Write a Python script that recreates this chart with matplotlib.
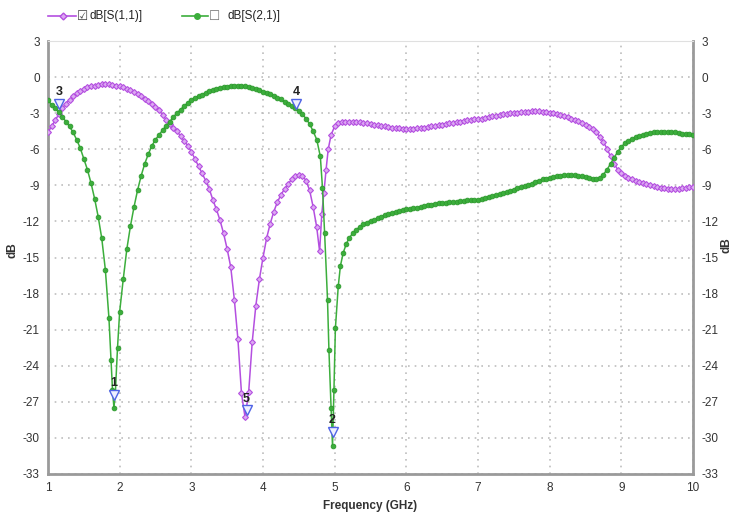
import matplotlib
matplotlib.use("Agg")
import matplotlib.pyplot as plt
from matplotlib.lines import Line2D

plt.rcParams['font.family'] = ['Liberation Sans Narrow', 'Liberation Sans', 'DejaVu Sans']

# S(1,1) sweep (GHz, dB)
f11 = [1.00, 1.05, 1.10, 1.15, 1.20, 1.25, 1.30, 1.35, 1.40, 1.45,
       1.50, 1.55, 1.60, 1.65, 1.70, 1.75, 1.80, 1.85, 1.90, 1.95,
       2.00, 2.05, 2.10, 2.15, 2.20, 2.25, 2.30, 2.35, 2.40, 2.45,
       2.50, 2.55, 2.60, 2.65, 2.70, 2.75, 2.80, 2.85, 2.90, 2.95,
       3.00, 3.05, 3.10, 3.15, 3.20, 3.25, 3.30, 3.35, 3.40, 3.45,
       3.50, 3.55, 3.60, 3.65, 3.70, 3.75, 3.80, 3.85, 3.90, 3.95,
       4.00, 4.05, 4.10, 4.15, 4.20, 4.25, 4.30, 4.35, 4.40, 4.45,
       4.50, 4.55, 4.60, 4.65, 4.70, 4.75, 4.79, 4.82, 4.85, 4.88,
       4.91, 4.95, 5.00, 5.05, 5.10, 5.15, 5.20, 5.25, 5.30, 5.35,
       5.40, 5.45, 5.50, 5.55, 5.60, 5.65, 5.70, 5.75, 5.80, 5.85,
       5.90, 5.95, 6.00, 6.05, 6.10, 6.15, 6.20, 6.25, 6.30, 6.35,
       6.40, 6.45, 6.50, 6.55, 6.60, 6.65, 6.70, 6.75, 6.80, 6.85,
       6.90, 6.95, 7.00, 7.05, 7.10, 7.15, 7.20, 7.25, 7.30, 7.35,
       7.40, 7.45, 7.50, 7.55, 7.60, 7.65, 7.70, 7.75, 7.80, 7.85,
       7.90, 7.95, 8.00, 8.05, 8.10, 8.15, 8.20, 8.25, 8.30, 8.35,
       8.40, 8.45, 8.50, 8.55, 8.60, 8.65, 8.70, 8.75, 8.80, 8.85,
       8.90, 8.95, 9.00, 9.05, 9.10, 9.15, 9.20, 9.25, 9.30, 9.35,
       9.40, 9.45, 9.50, 9.55, 9.60, 9.65, 9.70, 9.75, 9.80, 9.85,
       9.90, 9.95, 10.00]
s11 = [-4.6, -4.1, -3.6, -3.1, -2.6, -2.2, -1.9, -1.6, -1.35, -1.15,
       -1.0, -0.85, -0.75, -0.7, -0.65, -0.6, -0.6, -0.6, -0.65, -0.7,
       -0.75, -0.85, -0.95, -1.1, -1.25, -1.4, -1.6, -1.8, -2.0, -2.2,
       -2.45, -2.75, -3.15, -3.55, -3.9, -4.2, -4.5, -4.9, -5.3, -5.7,
       -6.2, -6.8, -7.4, -8.0, -8.6, -9.3, -10.2, -11.0, -11.9, -13.0,
       -14.3, -15.8, -18.5, -21.8, -26.3, -28.3, -26.2, -22.0, -19.0, -16.8,
       -15.0, -13.4, -12.2, -11.2, -10.4, -9.8, -9.3, -8.9, -8.5, -8.25,
       -8.1, -8.2, -8.6, -9.4, -10.8, -12.5, -14.5, -11.4, -9.6, -7.7,
       -6.0, -4.8, -4.1, -3.85, -3.75, -3.7, -3.7, -3.7, -3.7, -3.75,
       -3.8, -3.85, -3.9, -3.95, -4.0, -4.05, -4.1, -4.15, -4.2, -4.25,
       -4.25, -4.3, -4.3, -4.3, -4.3, -4.25, -4.25, -4.2, -4.15, -4.1,
       -4.05, -4.0, -3.95, -3.9, -3.85, -3.8, -3.75, -3.7, -3.65, -3.6,
       -3.55, -3.5, -3.5, -3.45, -3.4, -3.3, -3.25, -3.2, -3.15, -3.1,
       -3.05, -3.0, -2.95, -2.95, -2.9, -2.9, -2.9, -2.85, -2.85, -2.85,
       -2.9, -2.9, -2.95, -3.0, -3.1, -3.15, -3.25, -3.35, -3.45, -3.55,
       -3.65, -3.8, -3.95, -4.15, -4.35, -4.6, -4.95, -5.4, -5.95, -6.6,
       -7.2, -7.7, -8.0, -8.2, -8.35, -8.5, -8.6, -8.7, -8.8, -8.9,
       -9.0, -9.05, -9.1, -9.2, -9.25, -9.3, -9.3, -9.3, -9.3, -9.25,
       -9.2, -9.15, -9.1]

# S(2,1) sweep (GHz, dB)
f21 = [1.00, 1.05, 1.10, 1.15, 1.20, 1.25, 1.30, 1.35, 1.40, 1.45,
       1.50, 1.55, 1.60, 1.65, 1.70, 1.75, 1.80, 1.85, 1.88, 1.90,
       1.92, 1.94, 1.97, 2.00, 2.05, 2.10, 2.15, 2.20, 2.25, 2.30,
       2.35, 2.40, 2.45, 2.50, 2.55, 2.60, 2.65, 2.70, 2.75, 2.80,
       2.85, 2.90, 2.95, 3.00, 3.05, 3.10, 3.15, 3.20, 3.25, 3.30,
       3.35, 3.40, 3.45, 3.50, 3.55, 3.60, 3.65, 3.70, 3.75, 3.80,
       3.85, 3.90, 3.95, 4.00, 4.05, 4.10, 4.15, 4.20, 4.25, 4.30,
       4.35, 4.40, 4.45, 4.50, 4.55, 4.60, 4.65, 4.70, 4.75, 4.80,
       4.83, 4.86, 4.90, 4.92, 4.95, 4.97, 4.99, 5.01, 5.05, 5.08,
       5.12, 5.16, 5.20, 5.25, 5.30, 5.35, 5.40, 5.45, 5.50, 5.55,
       5.60, 5.65, 5.70, 5.75, 5.80, 5.85, 5.90, 5.95, 6.00, 6.05,
       6.10, 6.15, 6.20, 6.25, 6.30, 6.35, 6.40, 6.45, 6.50, 6.55,
       6.60, 6.65, 6.70, 6.75, 6.80, 6.85, 6.90, 6.95, 7.00, 7.05,
       7.10, 7.15, 7.20, 7.25, 7.30, 7.35, 7.40, 7.45, 7.50, 7.55,
       7.60, 7.65, 7.70, 7.75, 7.80, 7.85, 7.90, 7.95, 8.00, 8.05,
       8.10, 8.15, 8.20, 8.25, 8.30, 8.35, 8.40, 8.45, 8.50, 8.55,
       8.60, 8.65, 8.70, 8.75, 8.80, 8.85, 8.90, 8.95, 9.00, 9.05,
       9.10, 9.15, 9.20, 9.25, 9.30, 9.35, 9.40, 9.45, 9.50, 9.55,
       9.60, 9.65, 9.70, 9.75, 9.80, 9.85, 9.90, 9.95, 10.00]
s21 = [-1.9, -2.3, -2.6, -2.9, -3.3, -3.7, -4.1, -4.6, -5.2, -5.9,
       -6.8, -7.7, -8.8, -10.1, -11.6, -13.4, -16.0, -20.0, -23.5, -26.0,
       -27.5, -26.2, -22.5, -19.5, -16.8, -14.3, -12.4, -10.8, -9.4, -8.2,
       -7.2, -6.4, -5.7, -5.2, -4.8, -4.4, -4.05, -3.7, -3.3, -3.0,
       -2.7, -2.4, -2.15, -1.9, -1.75, -1.6, -1.45, -1.3, -1.15, -1.05,
       -0.95, -0.9, -0.85, -0.8, -0.75, -0.7, -0.7, -0.7, -0.75, -0.8,
       -0.9, -1.0, -1.1, -1.2, -1.3, -1.4, -1.55, -1.7, -1.85, -2.05,
       -2.2, -2.4, -2.6, -2.8, -3.1, -3.45, -3.9, -4.5, -5.2, -6.6,
       -9.2, -13.0, -18.5, -22.7, -27.5, -30.7, -26.0, -20.9, -17.4, -15.7,
       -14.6, -13.9, -13.4, -13.0, -12.7, -12.45, -12.25, -12.1, -12.0, -11.9,
       -11.75, -11.6, -11.5, -11.4, -11.3, -11.2, -11.15, -11.05, -11.0, -10.95,
       -10.9, -10.85, -10.8, -10.7, -10.65, -10.6, -10.55, -10.5, -10.45, -10.45,
       -10.4, -10.4, -10.35, -10.3, -10.3, -10.25, -10.25, -10.2, -10.2, -10.15,
       -10.05, -9.95, -9.9, -9.8, -9.75, -9.65, -9.55, -9.45, -9.35, -9.25,
       -9.15, -9.05, -8.95, -8.85, -8.7, -8.6, -8.5, -8.45, -8.4, -8.3,
       -8.25, -8.2, -8.15, -8.15, -8.15, -8.15, -8.2, -8.25, -8.3, -8.35,
       -8.45, -8.5, -8.4, -8.1, -7.7, -7.2, -6.7, -6.2, -5.8, -5.5,
       -5.3, -5.15, -5.0, -4.9, -4.8, -4.7, -4.65, -4.6, -4.55, -4.55,
       -4.55, -4.55, -4.6, -4.6, -4.65, -4.7, -4.7, -4.75, -4.8]

# marker triangles: label, frequency, dB
mk_labels = ["1", "2", "3", "4", "5"]
mk_freq = [1.92, 4.97, 1.16, 4.46, 3.77]
mk_db = [-26.4, -29.5, -2.2, -2.2, -27.7]

yticks = [3, 0, -3, -6, -9, -12, -15, -18, -21, -24, -27, -30, -33]
xticks = [1, 2, 3, 4, 5, 6, 7, 8, 9, 10]

purple = '#b44fe0'
green = '#3cae3c'

fig = plt.figure(figsize=(7.36, 5.21), dpi=100)
ax = fig.add_axes([48 / 736, 1 - 474 / 521, 645 / 736, 433 / 521])

ax.plot(f11, s11, color=purple, lw=1.1, marker='D', ms=3.0,
        mfc='#dca8f2', mec=purple, mew=0.8, zorder=3)
ax.plot(f21, s21, color=green, lw=1.1, marker='o', ms=3.4,
        mfc=green, mec='#2e9a2e', mew=0.6, zorder=3)

ax.plot(mk_freq, mk_db, linestyle='none', marker='v', ms=7,
        mfc='#eef0ff', mec='#4f63e6', mew=1.0, zorder=4)
for lab, fx, dbv in zip(mk_labels, mk_freq, mk_db):
    ax.annotate(lab, (fx, dbv), xytext=(0, 4), textcoords='offset points',
                ha='center', va='bottom', fontsize=9, fontweight='bold',
                color='#222222', zorder=5)

ax.set_xlim(1, 10)
ax.set_ylim(-33, 3)
ax.set_xticks(xticks)
ax.set_yticks(yticks)
ax.set_yticklabels([str(v) for v in yticks])
ax.tick_params(axis='both', length=0, labelsize=8.5, colors='#333333', pad=6)
ax.tick_params(axis='y', right=True, labelright=True)

ax.grid(True, color='#bdbdbd', linestyle=(0, (1, 3)), linewidth=1.2)
for side in ['left', 'right', 'bottom']:
    ax.spines[side].set_color('#9a9a9a')
    ax.spines[side].set_linewidth(2.0)
ax.spines['top'].set_color('#e0e0e0')
ax.spines['top'].set_linewidth(0.8)

ax.set_xlabel('Frequency (GHz)', fontsize=8.5, fontweight='bold', color='#333333', labelpad=4)
fig.text(13 / 736, 1 - 250 / 521, 'dB', rotation=90, ha='center', va='center',
         fontsize=8.5, fontweight='bold', color='#333333')
fig.text(727 / 736, 1 - 245 / 521, 'dB', rotation=90, ha='center', va='center',
         fontsize=8.5, fontweight='bold', color='#333333')

# legend drawn above the plot
ly = 1 - 16 / 521
fig.add_artist(Line2D([48 / 736, 76 / 736], [ly, ly], color=purple, lw=1.2,
                      transform=fig.transFigure))
fig.add_artist(Line2D([63 / 736], [ly], marker='D', ms=3.5, mfc='#dca8f2', mec=purple,
                      transform=fig.transFigure))
fig.text(77 / 736, ly, '\u2611', fontsize=9, va='center', ha='left',
         color='#444444', family=['DejaVu Sans'])
fig.text(89 / 736, ly, 'dB[S(1,1)]', fontsize=8.5, va='center', ha='left', color='#222222')
fig.add_artist(Line2D([182 / 736, 208 / 736], [ly, ly], color=green, lw=1.2,
                      transform=fig.transFigure))
fig.add_artist(Line2D([197 / 736], [ly], marker='o', ms=4, mfc=green, mec=green,
                      transform=fig.transFigure))
fig.text(209 / 736, ly, '\u2610', fontsize=9, va='center', ha='left',
         color='#777777', family=['DejaVu Sans'])
fig.text(227 / 736, ly, 'dB[S(2,1)]', fontsize=8.5, va='center', ha='left', color='#222222')

fig.savefig('out.png', dpi=100)
